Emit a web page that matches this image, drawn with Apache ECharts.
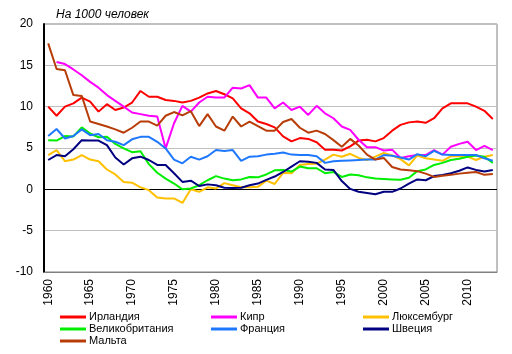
<!DOCTYPE html>
<html>
<head>
<meta charset="utf-8">
<script src="https://cdn.jsdelivr.net/npm/echarts@6/dist/echarts.min.js"></script>
<style>
html,body{margin:0;padding:0;background:#fff;}
#chart{width:512px;height:354px;}
</style>
</head>
<body>
<div id="chart"></div>
<script>
var years = [];
for (var y = 1960; y <= 2013; y++) years.push(String(y));

var unitLabel = 'На 1000 человек';

var ireland = [10.0, 8.9, 10.0, 10.4, 11.1, 10.6, 9.4, 10.3, 9.6, 9.9,
  10.5, 11.9, 11.2, 11.2, 10.8, 10.7, 10.5, 10.7, 11.1, 11.6,
  11.9, 11.5, 11.0, 9.8, 9.2, 8.2, 7.9, 7.5, 6.4, 5.8,
  6.2, 6.1, 5.7, 4.8, 4.8, 4.7, 5.2, 5.9, 6.0, 5.8,
  6.2, 7.1, 7.8, 8.1, 8.2, 8.05, 8.6, 9.8, 10.4, 10.4,
  10.4, 10.0, 9.5, 8.5];

var cyprus = [null, 15.4, 15.15, 14.5, 13.8, 13.0, 12.3, 11.4, 10.7, 10.0,
  9.3, 9.1, 8.9, 8.8, 4.95, 8.0, 10.1, 9.4, 10.5, 11.2,
  11.1, 11.1, 12.3, 12.2, 12.6, 11.1, 11.1, 9.8, 10.5, 9.6,
  10.0, 9.0, 10.1, 9.2, 8.6, 7.6, 7.2, 6.0, 5.1, 5.1,
  4.7, 4.8, 3.8, 4.0, 4.15, 4.15, 4.75, 4.2, 5.15, 5.5,
  5.75, 4.75, 5.25, 4.75];

var luxembourg = [4.15, 4.75, 3.4, 3.6, 4.15, 3.6, 3.4, 2.4, 1.8, 0.9,
  0.8, 0.25, -0.1, -1.0, -1.1, -1.1, -1.65, 0.0, -0.3, 0.25,
  0.1, 0.75, 0.5, 0.25, 0.25, 0.3, 1.05, 0.65, 2.0, 1.95,
  2.95, 3.05, 3.1, 3.6, 4.2, 3.95, 4.3, 3.8, 3.55, 3.95,
  4.4, 4.1, 3.65, 2.9, 4.1, 3.75, 3.6, 3.45, 4.0, 4.0,
  3.95, 3.55, 3.95, 4.15];

var uk = [5.95, 5.9, 6.45, 6.4, 7.5, 6.75, 6.3, 6.35, 5.5, 4.95,
  4.5, 4.6, 3.05, 2.0, 1.3, 0.7, 0.0, 0.1, 0.5, 1.1,
  1.6, 1.3, 1.1, 1.2, 1.5, 1.45, 1.8, 2.3, 2.35, 2.15,
  2.75, 2.55, 2.55, 1.95, 2.1, 1.5, 1.8, 1.7, 1.45, 1.3,
  1.25, 1.2, 1.15, 1.4, 2.2, 2.4, 2.95, 3.2, 3.55, 3.7,
  3.95, 4.1, 3.95, 3.2];

var france = [6.45, 7.3, 6.15, 6.45, 7.25, 6.55, 6.7, 5.95, 5.75, 5.35,
  6.05, 6.35, 6.35, 5.75, 4.95, 3.6, 3.15, 3.95, 3.6, 4.0,
  4.75, 4.65, 4.75, 3.45, 3.95, 4.0, 4.2, 4.3, 4.45, 4.2,
  4.15, 4.15, 4.0, 3.2, 3.4, 3.45, 3.5, 3.55, 3.6, 3.6,
  4.15, 4.05, 3.85, 3.6, 4.25, 4.0, 4.65, 4.2, 4.15, 4.15,
  4.15, 4.15, 3.75, 3.45];

var sweden = [3.55, 4.15, 4.0, 4.85, 5.95, 5.9, 5.9, 5.35, 3.85, 3.0,
  3.75, 3.95, 3.55, 2.95, 2.95, 1.95, 0.9, 1.05, 0.4, 0.6,
  0.5, 0.2, 0.15, 0.2, 0.5, 0.7, 1.15, 1.55, 2.1, 2.75,
  3.4, 3.35, 3.2, 2.4, 2.35, 1.0, 0.05, -0.3, -0.45, -0.6,
  -0.3, -0.3, 0.1, 0.7, 1.2, 1.1, 1.6, 1.75, 1.95, 2.25,
  2.65, 2.35, 2.15, 2.35];

var malta = [17.65, 14.55, 14.4, 11.4, 11.3, 8.2, 7.9, 7.6, 7.25, 6.85,
  7.45, 8.2, 8.2, 7.7, 8.9, 9.35, 8.95, 9.45, 7.65, 9.1,
  7.6, 7.1, 8.8, 7.6, 8.2, 7.65, 7.1, 7.1, 8.15, 8.5,
  7.45, 6.85, 7.1, 6.7, 5.95, 5.15, 6.1, 5.3, 4.2, 3.6,
  3.8, 2.7, 2.4, 2.3, 2.2, 1.9, 1.5, 1.65, 1.75, 1.9,
  2.0, 2.1, 1.75, 1.85];

var names = ['Ирландия', 'Кипр', 'Люксембург', 'Великобритания', 'Франция', 'Швеция', 'Мальта'];
var seriesData = [ireland, cyprus, luxembourg, uk, france, sweden, malta];
var colors = ['#FF0000', '#FF00FF', '#FFC000', '#00EE00', '#1E78FF', '#000080', '#B83C08'];

var FONT = '"Liberation Sans", Arial, sans-serif';

var series = names.map(function (n, i) {
  var s = {
    name: n,
    type: 'line',
    data: seriesData[i],
    showSymbol: false,
    symbol: 'none',
    connectNulls: false,
    lineStyle: { width: 2, color: colors[i] },
    itemStyle: { color: colors[i] },
    animation: false,
    z: 3
  };
  if (i === 0) {
    s.markLine = {
      silent: true,
      symbol: 'none',
      label: { show: false },
      lineStyle: { color: '#000', width: 1, type: 'solid' },
      data: [{ yAxis: 0 }],
      z: 2
    };
  }
  return s;
});

function legendBlock(items, left) {
  return {
    data: items,
    orient: 'vertical',
    left: left,
    top: 311,
    itemWidth: 26,
    itemHeight: 3,
    itemGap: 0,
    padding: 0,
    icon: 'rect',
    selectedMode: false,
    textStyle: { fontFamily: FONT, fontSize: 11, color: '#000', lineHeight: 12, padding: [0, 0, 0, -2] }
  };
}

var chart = echarts.init(document.getElementById('chart'), null, { renderer: 'canvas' });
chart.setOption({
  animation: false,
  color: colors,
  title: {
    text: unitLabel,
    left: 56,
    top: 9,
    padding: 0,
    textStyle: { fontFamily: FONT, fontSize: 12, fontStyle: 'italic', fontWeight: 'normal', color: '#000' }
  },
  legend: [
    legendBlock(['Ирландия', 'Великобритания', 'Мальта'], 60),
    legendBlock(['Кипр', 'Франция'], 211),
    legendBlock(['Люксембург', 'Швеция'], 363)
  ],
  grid: {
    left: 44, right: 15, top: 24, bottom: 82,
    show: true, borderColor: '#808080', borderWidth: 1, backgroundColor: '#fff'
  },
  xAxis: {
    type: 'category',
    data: years,
    boundaryGap: true,
    axisLine: { show: true, onZero: false, lineStyle: { color: '#808080', width: 1 } },
    axisTick: { show: false },
    splitLine: { show: false },
    axisLabel: {
      interval: 4,
      rotate: 90,
      margin: 7,
      fontFamily: FONT,
      fontSize: 12,
      color: '#000'
    }
  },
  yAxis: {
    type: 'value',
    min: -10,
    max: 20,
    interval: 5,
    axisLine: { show: true, lineStyle: { color: '#000', width: 2 } },
    axisTick: { show: false },
    splitLine: { show: true, lineStyle: { color: '#C0C0C0', width: 1 } },
    axisLabel: { margin: 11, fontFamily: FONT, fontSize: 12, color: '#000' }
  },
  series: series
});
</script>
</body>
</html>
